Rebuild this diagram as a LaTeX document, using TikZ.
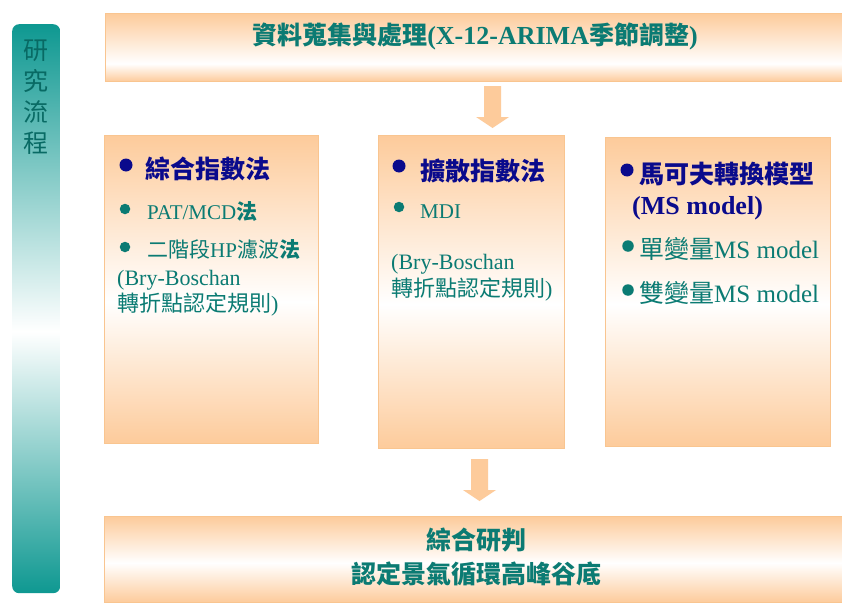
\documentclass[tikz,border=0pt]{standalone}
\usepackage{fontspec}
\setmainfont{Liberation Serif}
\newfontfamily\cjk{Noto Sans CJK TC}
\usetikzlibrary{calc}
\definecolor{pk}{HTML}{FDCB9B}
\definecolor{pkedge}{HTML}{F9C590}
\definecolor{tealtx}{HTML}{0B7B73}
\definecolor{navy}{HTML}{0A0A8C}
\definecolor{barteal}{HTML}{0E9891}
\definecolor{bartxt}{HTML}{086A64}
\pgfdeclareverticalshading{topband}{100bp}{color(0bp)=(pk); color(25bp)=(pk); color(38bp)=(white); color(75bp)=(pk); color(100bp)=(pk)}
\pgfdeclareverticalshading{midband}{100bp}{color(0bp)=(pk); color(25bp)=(pk); color(48bp)=(white); color(75bp)=(pk); color(100bp)=(pk)}
\pgfdeclareverticalshading{barband}{100bp}{color(0bp)=(barteal); color(25bp)=(barteal); color(48bp)=(white); color(75bp)=(barteal); color(100bp)=(barteal)}
\newcommand{\cjkfs}[1]{\fontsize{#1}{#1}\selectfont}
\tikzset{
  obox/.style={rectangle, draw=pkedge, line width=0.8pt, inner sep=0pt, anchor=north west},
  tband/.style={obox, shading=topband},
  mband/.style={obox, shading=midband},
  txt/.style={inner sep=0pt, anchor=west},
  hd/.style={txt, text=navy, font=\cjk\bfseries\cjkfs{25}},
  it/.style={txt, text=tealtx, font=\cjkfs{21}},
  bnavy/.style={circle, fill=navy, inner sep=0pt, minimum size=13pt},
  bteal/.style={circle, fill=tealtx, inner sep=0pt, minimum size=10.5pt},
  blockarr/.style={fill=pk, draw=none},
}
\begin{document}
\begin{tikzpicture}[x=1pt,y=-1pt]
\useasboundingbox (0,0) rectangle (842,602);
\fill[white] (0,0) rectangle (842,602);

% left bar
\node[rectangle, rounded corners=7pt, shading=barband, inner sep=0pt, anchor=north west,
      minimum width=48pt, minimum height=569pt] (bar) at (12,24) {};
\node[inner sep=0pt, text=bartxt, font=\cjk\cjkfs{25}, align=center] (bartext) at (36,97)
  {研\\[6pt]究\\[6pt]流\\[6pt]程};

% top box
\node[tband, minimum width=737pt, minimum height=68pt] (top) at (105,13) {};
\node[inner sep=0pt, text=tealtx] (toptext) at (475,36)
  {{\cjk\bfseries\cjkfs{25}資料蒐集與處理}{\bfseries\fontsize{26}{26}\selectfont(X-12-ARIMA}{\cjk\bfseries\cjkfs{25}季節調整}{\bfseries\fontsize{26}{26}\selectfont)}};

% three method boxes
\node[mband, minimum width=214pt, minimum height=308pt] (b1) at (104,135) {};
\node[mband, minimum width=186pt, minimum height=313pt] (b2) at (378,135) {};
\node[mband, minimum width=225pt, minimum height=309pt] (b3) at (605,137) {};

% bottom box
\node[mband, minimum width=738pt, minimum height=86pt] (bot) at (104,516) {};
\node[inner sep=0pt, text=tealtx, font=\cjk\bfseries\cjkfs{25}] (bt1) at (476,540) {綜合研判};
\node[inner sep=0pt, text=tealtx, font=\cjk\bfseries\cjkfs{25}] (bt2) at (476,574) {認定景氣循環高峰谷底};

% arrows
\fill[blockarr] (484,86) -- (501,86) -- (501,117) -- (509,117) -- (492.5,128) -- (476,117) -- (484,117) -- cycle;
\fill[blockarr] (471,459) -- (488,459) -- (488,490) -- (496,490) -- (479.5,501) -- (463,490) -- (471,490) -- cycle;

% box 1 contents
\node[bnavy] (p1) at (126,165) {};
\node[hd] (h1) at (145,169) {綜合指數法};
\node[bteal] (p2) at (125,209) {};
\node[it] (i11) at (147,212) {\fontsize{21}{21}\selectfont PAT/MCD{\cjk\bfseries 法}};
\node[bteal] (p3) at (125,247) {};
\node[it] (i12) at (147,250) {{\cjk 二階段}\fontsize{21}{21}\selectfont HP{\cjk 濾波}{\cjk\bfseries 法}};
\node[it, font=\fontsize{22}{22}\selectfont] (i13) at (117,280) {(Bry-Boschan};
\node[it, font=\fontsize{22}{22}\selectfont] (i14) at (117,305) {{\cjk 轉折點認定規則})};

% box 2 contents
\node[bnavy] (q1) at (399,166) {};
\node[hd] (h2) at (420,171) {擴散指數法};
\node[bteal] (q2) at (399,207) {};
\node[it, font=\fontsize{21}{21}\selectfont] (i21) at (420,212) {MDI};
\node[it, font=\fontsize{22}{22}\selectfont] (i22) at (391,264) {(Bry-Boschan};
\node[it, font=\fontsize{22}{22}\selectfont] (i23) at (391,290) {{\cjk 轉折點認定規則})};

% box 3 contents
\node[bnavy] (r1) at (627,170) {};
\node[hd] (h3) at (639,174) {馬可夫轉換模型};
\node[txt, text=navy, font=\bfseries\fontsize{26}{26}\selectfont] (h3b) at (632,208) {(MS model)};
\node[bteal, minimum size=11.5pt] (r2) at (628,246) {};
\node[it, font=\fontsize{25}{25}\selectfont] (i31) at (639,249) {{\cjk 單變量}MS model};
\node[bteal, minimum size=11.5pt] (r3) at (628,290) {};
\node[it, font=\fontsize{25}{25}\selectfont] (i32) at (639,293) {{\cjk 雙變量}MS model};
\end{tikzpicture}
\end{document}
